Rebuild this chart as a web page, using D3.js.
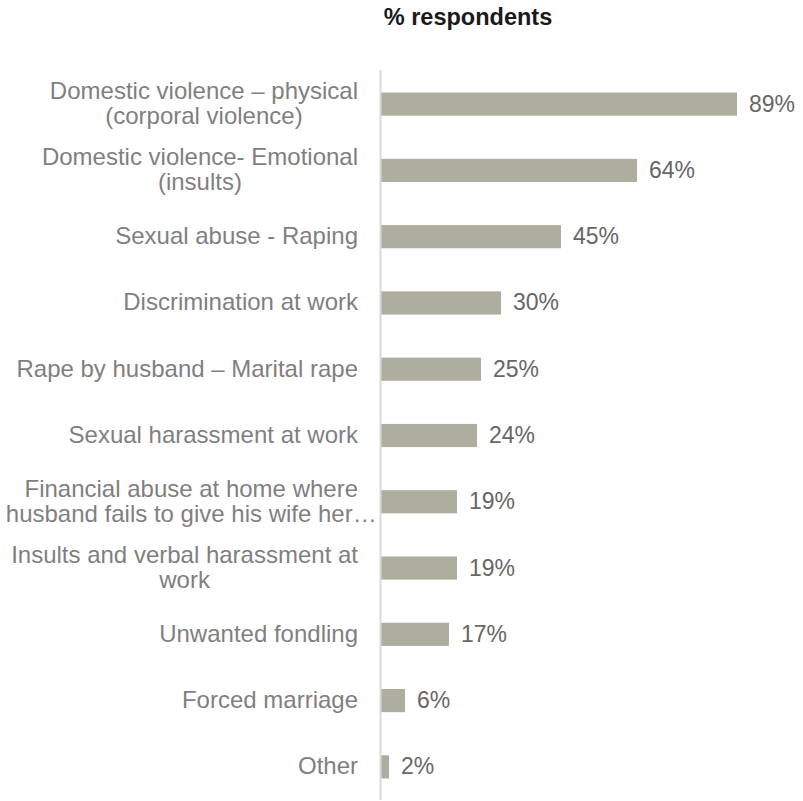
<!DOCTYPE html>
<html>
<head>
<meta charset="utf-8">
<script src="https://cdn.jsdelivr.net/npm/d3@7"></script>
<style>
  html, body { margin: 0; padding: 0; background: #ffffff; }
  svg { display: block; font-family: "Liberation Sans", Arial, sans-serif; }
</style>
</head>
<body>
<svg id="chart" width="803" height="801"></svg>
<script>
// Category labels (each entry is a list of display lines)
const categories = [
  ["Domestic violence \u2013 physical", "(corporal violence)"],
  ["Domestic violence- Emotional", "(insults)"],
  ["Sexual abuse - Raping"],
  ["Discrimination at work"],
  ["Rape by husband \u2013 Marital rape"],
  ["Sexual harassment at work"],
  ["Financial abuse at home where", "husband fails to give his wife her\u2026"],
  ["Insults and verbal harassment at", "work"],
  ["Unwanted fondling"],
  ["Forced marriage"],
  ["Other"]
];
// Share of respondents, %
const values = [89, 64, 45, 30, 25, 24, 19, 19, 17, 6, 2];
const title = "% respondents";

const svg = d3.select("#chart");
const labelRight = 358;

const keys = categories.map((c, i) => i);

const y = d3.scaleBand()
  .domain(keys)
  .range([71, 800])
  .paddingInner(0.65)
  .paddingOuter(0.325);

const x = d3.scaleLinear()
  .domain([0, 100])
  .range([381, 781]);

// Title
svg.append("text")
  .attr("x", 468)
  .attr("y", 25)
  .attr("text-anchor", "middle")
  .attr("font-size", 23.5)
  .attr("font-weight", "bold")
  .attr("fill", "#1a1a1a")
  .text(title);

// Bars
svg.append("g")
  .selectAll("rect")
  .data(values)
  .join("rect")
  .attr("x", x(0))
  .attr("y", (d, i) => y(i))
  .attr("width", d => x(d) - x(0))
  .attr("height", y.bandwidth())
  .attr("fill", "#aeae9e");

// Category axis line
svg.append("line")
  .attr("x1", 380.5).attr("x2", 380.5)
  .attr("y1", 70).attr("y2", 800)
  .attr("stroke", "#d9d9d9")
  .attr("stroke-width", 2);

// Category labels: single lines right-aligned, wrapped labels centred
// on the first line, which is itself right-aligned to the axis gap
const lineH = 25;
const lab = svg.append("g")
  .selectAll("text")
  .data(categories)
  .join("text")
  .attr("font-size", 24)
  .attr("fill", "#7f7f7f")
  .attr("y", (d, i) => y(i) + y.bandwidth() / 2 + 7.5 - (d.length - 1) * lineH / 2);
lab.selectAll("tspan")
  .data(d => d)
  .join("tspan")
  .attr("dy", (d, j) => j === 0 ? 0 : lineH)
  .text(d => d);
lab.each(function(d) {
  const t = d3.select(this);
  const spans = t.selectAll("tspan");
  if (d.length === 1) {
    t.attr("text-anchor", "end");
    spans.attr("x", labelRight);
  } else {
    const w0 = spans.nodes()[0].getComputedTextLength();
    t.attr("text-anchor", "middle");
    spans.attr("x", labelRight - w0 / 2);
  }
});

// Value labels
svg.append("g")
  .selectAll("text")
  .data(values)
  .join("text")
  .attr("x", d => x(d) + 12)
  .attr("y", (d, i) => y(i) + y.bandwidth() / 2 + 7.5)
  .attr("font-size", 23)
  .attr("fill", "#666666")
  .text(d => d + "%");
</script>
</body>
</html>
